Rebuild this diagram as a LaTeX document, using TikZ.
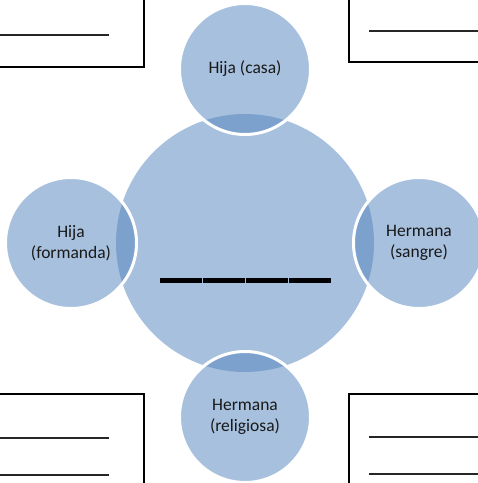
\documentclass[tikz,border=0pt]{standalone}
\usepackage{fontspec}
\setmainfont{Carlito}
\usetikzlibrary{positioning}
\definecolor{circleblue}{RGB}{167,192,222}
\definecolor{lensblue}{RGB}{124,161,205}
\tikzstyle{bigcircle}=[circle,fill=circleblue,minimum size=258pt,inner sep=0pt]
\tikzstyle{smallcircle}=[circle,fill=circleblue,draw=white,line width=3pt,minimum size=131pt,inner sep=0pt,align=center,text=black!90,font=\fontsize{17.5}{20.5}\selectfont,path picture={\fill[lensblue] (centre.center) circle[radius=129pt];}]
\tikzstyle{box} = [draw,line width=1.5pt]
\tikzstyle{blank} = [draw,line width=1.1pt,black!85]
\tikzstyle{bigblank} = [draw,line width=5pt,black]

\begin{document}
\begin{tikzpicture}[x=1pt,y=1pt]
    \useasboundingbox (0,0) rectangle (478,483);
    \clip (0,0) rectangle (478,483);

    % corner boxes
    \draw[box] (-10,416) rectangle (144,493);
    \draw[box] (349,421) rectangle (490,493);
    \draw[box] (-10,-10) rectangle (144,89);
    \draw[box] (349,-10) rectangle (490,89);
    \foreach \xa/\xb/\y in {0/109/448, 369/490/452, 0/109/45, 0/109/8, 369/490/46, 369/490/9}
        \path[blank] (\xa,\y) -- (\xb,\y);

    \node[bigcircle] (centre) at (245,240) {};

    \foreach \pos/\name/\txt in {{(245,414)/casa/{Hija (casa)}}, {(71,240)/formanda/{Hija\\(formanda)}}, {(419,240)/sangre/{Hermana\\(sangre)}}, {(245,66)/religiosa/{Hermana\\(religiosa)}}}
        \node[smallcircle] (\name) at \pos {\txt};

    \foreach \xa/\xb in {160/202, 203/245, 246/288, 289/331}
        \path[bigblank] (\xa,202) -- (\xb,202);

\end{tikzpicture}
\end{document}
